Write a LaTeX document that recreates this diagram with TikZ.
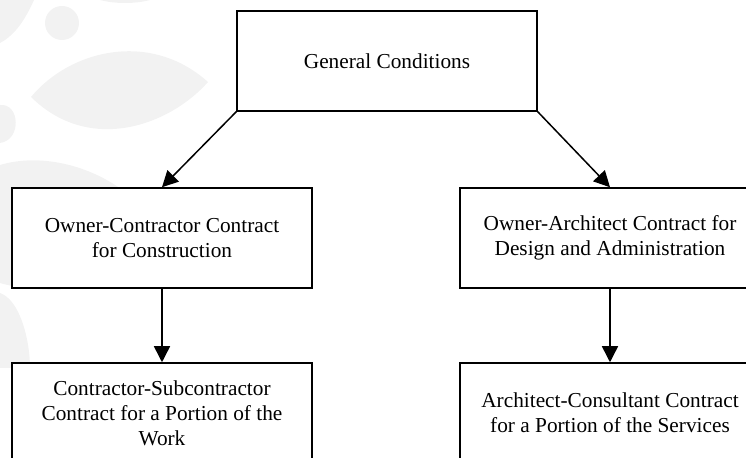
\documentclass[tikz,border=0pt]{standalone}
\usepackage{fontspec}
\setmainfont{Liberation Serif}
\usetikzlibrary{arrows.meta}
\definecolor{wm}{HTML}{F2F2F2}
\tikzset{
  box/.style={draw=black, line width=0.75pt, fill=white, minimum width=150pt, minimum height=50pt,
    align=center, inner sep=0pt, font=\fontsize{10.65pt}{12.5pt}\selectfont},
  conn/.style={line width=0.75pt, -{Triangle[length=8pt,width=8pt]}}
}
\begin{document}
\begin{tikzpicture}[x=0.5pt,y=-0.5pt]
\useasboundingbox (0,0) rectangle (746,458);
\clip (0,0) rectangle (746,458);
% faint background shapes
\fill[wm] (0,0) -- (34,0) .. controls (25,20) and (15,35) .. (0,43) -- cycle;
\fill[wm] (100,0) .. controls (115,4) and (135,4) .. (150,0) -- cycle;
\fill[wm] (62,23) circle [radius=8.5pt];
\fill[wm] (31,97) .. controls (70,50) and (150,30) .. (208,82) .. controls (170,125) and (90,155) .. (31,97) -- cycle;
\fill[wm] (0,105) .. controls (20,103) and (22,140) .. (0,143) -- cycle;
\fill[wm] (0,165) .. controls (40,153) and (90,165) .. (125,192) -- (60,290) .. controls (30,290) and (10,286) .. (0,283) -- cycle;
\fill[wm] (0,293) .. controls (20,300) and (30,340) .. (30,368) -- (0,368) -- cycle;
% nodes
\node[box] (gc) at (387,61) {General Conditions};
\node[box] (oc) at (162,238) {Owner-Contractor Contract\\for Construction};
\node[box] (oa) at (610,238) {Owner-Architect Contract for\\Design and Administration};
\node[box] (cs) at (162,413) {Contractor-Subcontractor\\Contract for a Portion of the\\Work};
\node[box] (ac) at (610,413) {Architect-Consultant Contract\\for a Portion of the Services};
% connectors
\draw[conn] (gc.south west) -- (oc.north);
\draw[conn] (gc.south east) -- (oa.north);
\draw[conn] (oc.south) -- (cs.north);
\draw[conn] (oa.south) -- (ac.north);
\end{tikzpicture}
\end{document}
